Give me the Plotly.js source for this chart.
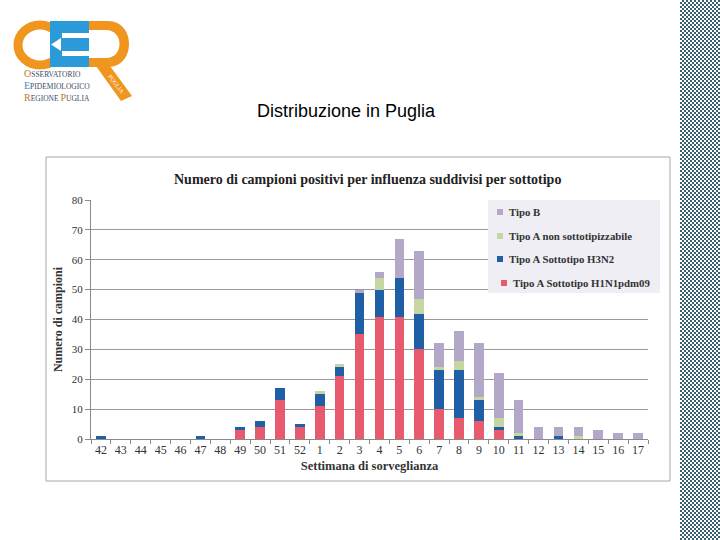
<!DOCTYPE html>
<html>
<head>
<meta charset="utf-8">
<script src="https://cdn.plot.ly/plotly-3.0.1.min.js"></script>
<style>
html,body{margin:0;padding:0;background:#fff;}
#chart{position:absolute;left:0;top:0;width:720px;height:540px;}
#strip{position:absolute;left:680px;top:0;width:40px;height:540px;
background:repeating-conic-gradient(#35606f 0% 25%, #ffffff 0% 50%) 0 0/4px 4px;}
</style>
</head>
<body>
<div id="chart"></div>
<div id="strip"></div>
<script>
// ---- data ----
const weeks = ['42','43','44','45','46','47','48','49','50','51','52','1','2','3','4','5','6','7','8','9','10','11','12','13','14','15','16','17'];
const h1n1   = [0,0,0,0,0,0,0,3,4,13,4,11,21,35,41,41,30,10,7,6,3,0,0,0,0,0,0,0];
const h3n2   = [1,0,0,0,0,1,0,1,2,4,1,4,3,14,9,13,12,13,16,7,1,1,0,1,0,0,0,0];
const nonSub = [0,0,0,0,0,0,0,0,0,0,0,1,1,0,4,0,5,1,3,1,3,1,0,0,1,0,0,0];
const tipoB  = [0,0,0,0,0,0,0,0,0,0,0,0,0,1,2,13,16,8,10,18,15,11,4,3,3,3,2,2];
const seriesNames = ['Tipo A Sottotipo H1N1pdm09','Tipo A Sottotipo H3N2','Tipo A non sottotipizzabile','Tipo B'];
const yTicks = [0,10,20,30,40,50,60,70,80];

const W = 720, H = 540;
const px = x => x / W;
const py = y => 1 - y / H;
const serif = 'Liberation Serif, DejaVu Serif, serif';
const colors = ['#e85a6e','#1f5fa6','#c6d6a2','#b4a8c9'];
const seriesVals = [h1n1, h3n2, nonSub, tipoB];

const traces = seriesVals.map((v,i) => ({type:'bar', x:weeks, y:v, name:seriesNames[i],
  marker:{color:colors[i], line:{width:0}}, hoverinfo:'skip', showlegend:false}));

const orange = '#f0961e', blue = '#2a9ad8';
const shapes = [
  // chart frame
  {type:'rect', xref:'paper', yref:'paper', x0:px(46), x1:px(670), y0:py(157), y1:py(481),
   line:{color:'#a8a8a8', width:1}, fillcolor:'rgba(0,0,0,0)'},
  // legend background
  {type:'rect', xref:'paper', yref:'paper', x0:px(488), x1:px(660), y0:py(200), y1:py(293),
   line:{width:0}, fillcolor:'#eeeef4'},
  // logo: C ring
  {type:'circle', xref:'paper', yref:'paper', x0:px(18), x1:px(62), y0:py(25), y1:py(65),
   line:{color:orange, width:9}, fillcolor:'rgba(0,0,0,0)'},
  // blue E block
  {type:'rect', xref:'paper', yref:'paper', x0:px(50), x1:px(89), y0:py(21), y1:py(67),
   line:{width:0}, fillcolor:blue},
  {type:'rect', xref:'paper', yref:'paper', x0:px(62), x1:px(89), y0:py(33), y1:py(38),
   line:{width:0}, fillcolor:'#ffffff'},
  {type:'rect', xref:'paper', yref:'paper', x0:px(62), x1:px(89), y0:py(51), y1:py(56),
   line:{width:0}, fillcolor:'#ffffff'},
  {type:'path', xref:'paper', yref:'paper',
   path:'M'+px(51)+','+py(44.5)+' L'+px(61)+','+py(38)+' L'+px(61)+','+py(51)+' Z',
   line:{width:0}, fillcolor:'#ffffff'},
  // orange R bowl
  {type:'path', xref:'paper', yref:'paper',
   path:'M'+px(89)+','+py(21)+' L'+px(108)+','+py(21)+' C'+px(136)+','+py(21)+' '+px(136)+','+py(67)+' '+px(108)+','+py(67)+' L'+px(89)+','+py(67)+' Z',
   line:{width:0}, fillcolor:orange},
  {type:'path', xref:'paper', yref:'paper',
   path:'M'+px(89)+','+py(30)+' L'+px(106)+','+py(30)+' C'+px(124)+','+py(30)+' '+px(124)+','+py(58)+' '+px(106)+','+py(58)+' L'+px(89)+','+py(58)+' Z',
   line:{width:0}, fillcolor:'#ffffff'},
  // R leg
  {type:'path', xref:'paper', yref:'paper',
   path:'M'+px(96)+','+py(66)+' L'+px(110)+','+py(66)+' L'+px(132)+','+py(96)+' L'+px(121)+','+py(101)+' Z',
   line:{width:0}, fillcolor:orange}
];

function sc(first, rest, col){
  return '<span style="font-size:10px;fill:'+col+'">'+first+'</span>'+rest;
}
const annotations = [
  {text:'Distribuzione in Puglia', xref:'paper', yref:'paper', x:px(346), y:py(111),
   xanchor:'center', yanchor:'middle', showarrow:false,
   font:{family:'Liberation Sans, Arial, sans-serif', size:18, color:'#000'}},
  {text:'Numero di campioni positivi per influenza suddivisi per sottotipo', xref:'paper', yref:'paper',
   x:px(367), y:py(179), xanchor:'center', yanchor:'middle', showarrow:false,
   font:{family:serif, size:14, color:'#222', weight:'bold'}},
  {text:sc('O','SSERVATORIO','#c07a2a'), xref:'paper', yref:'paper', x:px(22), y:py(73),
   xanchor:'left', yanchor:'middle', showarrow:false, font:{family:serif, size:7.5, color:'#3b4a66'}},
  {text:sc('E','PIDEMIOLOGICO','#4f86b8'), xref:'paper', yref:'paper', x:px(22), y:py(86),
   xanchor:'left', yanchor:'middle', showarrow:false, font:{family:serif, size:7.5, color:'#3b4a66'}},
  {text:sc('R','EGIONE ','#c07a2a')+sc('P','UGLIA','#c07a2a'), xref:'paper', yref:'paper', x:px(22), y:py(98),
   xanchor:'left', yanchor:'middle', showarrow:false, font:{family:serif, size:7.5, color:'#3b4a66'}},
  {text:'PUGLIA', xref:'paper', yref:'paper', x:px(116), y:py(84), textangle:52,
   xanchor:'center', yanchor:'middle', showarrow:false, font:{family:serif, size:6, color:'#fff'}}
];

// manual legend (top to bottom: Tipo B ... H1N1)
const legY = [212, 236, 259, 283];
[3,2,1,0].forEach((si, k) => {
  const sx = (si === 0) ? 501 : 497;
  shapes.push({type:'rect', xref:'paper', yref:'paper', x0:px(sx), x1:px(sx+6), y0:py(legY[k]-3), y1:py(legY[k]+3),
    line:{width:0}, fillcolor:colors[si]});
  annotations.push({text:seriesNames[si], xref:'paper', yref:'paper', x:px(sx+10), y:py(legY[k]),
    xanchor:'left', yanchor:'middle', showarrow:false,
    font:{family:serif, size:10.8, color:'#333', weight:'bold'}});
});

const layout = {
  width:W, height:H,
  margin:{l:0, r:0, t:0, b:0},
  paper_bgcolor:'#ffffff', plot_bgcolor:'#ffffff',
  barmode:'stack', bargap:0.52,
  showlegend:false,
  xaxis:{domain:[px(91), px(648)], type:'category', categoryorder:'array', categoryarray:weeks,
    showline:true, linecolor:'#8a8a8a', linewidth:1, ticks:'outside', tickson:'boundaries',
    ticklen:4, tickcolor:'#8a8a8a', showgrid:false, zeroline:false, tickangle:0,
    tickfont:{family:serif, size:12, color:'#333'},
    title:{text:'Settimana di sorveglianza', standoff:4, font:{family:serif, size:12.5, color:'#333', weight:'bold'}},
    automargin:false, fixedrange:true},
  yaxis:{domain:[py(439), py(200)], range:[0,80], tickvals:yTicks,
    showline:true, linecolor:'#8a8a8a', linewidth:1, ticks:'outside', ticklen:5, tickcolor:'#8a8a8a',
    showgrid:true, gridcolor:'#9a9a9a', gridwidth:1, zeroline:false,
    tickfont:{family:serif, size:11, color:'#333'},
    title:{text:'Numero di campioni', standoff:6, font:{family:serif, size:12, color:'#333', weight:'bold'}},
    automargin:false, fixedrange:true},
  shapes:shapes,
  annotations:annotations
};

Plotly.newPlot('chart', traces, layout, {displayModeBar:false, staticPlot:true});
</script>
</body>
</html>
